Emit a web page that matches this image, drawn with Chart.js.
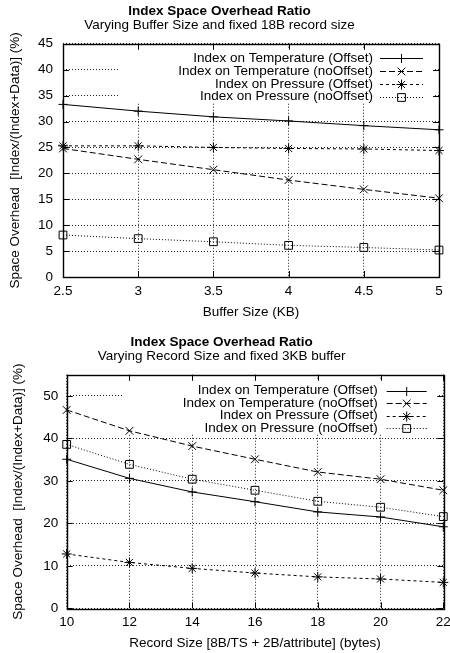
<!DOCTYPE html>
<html>
<head>
<meta charset="utf-8">
<script src="https://cdn.jsdelivr.net/npm/chart.js@4"></script>
<style>
  body { margin: 0; background: #fff; }
  .box { position: absolute; left: 0; }
</style>
</head>
<body>
<div class="box" style="top:0"><canvas id="bufferChart" width="450" height="320"></canvas></div>
<div class="box" style="top:331px"><canvas id="recordChart" width="450" height="322"></canvas></div>
<script>
// dati
const seriesLabels = [
  'Index on Temperature (Offset)',
  'Index on Temperature (noOffset)',
  'Index on Pressure (Offset)',
  'Index on Pressure (noOffset)'
];

// grafico 1: buffer variabile
const bufferSizes = [2.5, 3, 3.5, 4, 4.5, 5];
const bufTempOffset = [33.3, 32.0, 30.9, 30.1, 29.2, 28.4];
const bufTempNoOffset = [24.8, 22.7, 20.7, 18.7, 16.9, 15.2];
const bufPresOffset = [25.3, 25.3, 25.0, 24.8, 24.7, 24.4];
const bufPresNoOffset = [8.1, 7.4, 6.8, 6.1, 5.7, 5.2];

// grafico 2: record variabile
const recordSizes = [10, 12, 14, 16, 18, 20, 22];
const recTempOffset = [35.1, 30.6, 27.4, 25.1, 22.7, 21.5, 19.2];
const recTempNoOffset = [46.7, 41.8, 38.2, 35.1, 32.1, 30.4, 27.8];
const recPresOffset = [12.8, 10.8, 9.4, 8.3, 7.4, 6.9, 6.1];
const recPresNoOffset = [38.6, 33.9, 30.4, 27.8, 25.2, 23.8, 21.6];

const FONT = "'Liberation Sans', Arial, Helvetica, sans-serif";
const lineStyles = [
  { dash: [], point: 'cross', radius: 4.5 },
  { dash: [6, 3], point: 'crossRot', radius: 5.5 },
  { dash: [3, 3], point: 'star', radius: 5 },
  { dash: [1, 2], point: 'rect', radius: 5.5 }
];

// cornice, tacche interne e legenda in stile gnuplot
const gnuplotFrame = {
  id: 'gnuplotFrame',
  beforeDatasetsDraw(chart, args, opts) {
    const { ctx, chartArea: a } = chart;
    ctx.save();
    ctx.fillStyle = '#fff';
    ctx.fillRect(opts.boxLeft, a.top + 4, a.right - 6 - opts.boxLeft, opts.boxBottom - a.top - 4);
    ctx.restore();
  },
  afterDatasetsDraw(chart, args, opts) {
    const { ctx, chartArea: a, scales } = chart;
    ctx.save();
    ctx.strokeStyle = '#000';
    ctx.lineWidth = 1;
    ctx.setLineDash([]);
    ctx.beginPath();
    scales.x.ticks.forEach(t => {
      const px = Math.round(scales.x.getPixelForValue(t.value)) + 0.5;
      ctx.moveTo(px, a.bottom); ctx.lineTo(px, a.bottom - 6);
      ctx.moveTo(px, a.top); ctx.lineTo(px, a.top + 6);
    });
    scales.y.ticks.forEach(t => {
      const py = Math.round(scales.y.getPixelForValue(t.value)) + 0.5;
      ctx.moveTo(a.left, py); ctx.lineTo(a.left + 6, py);
      ctx.moveTo(a.right, py); ctx.lineTo(a.right - 6, py);
    });
    ctx.stroke();
    ctx.lineWidth = 1.4;
    ctx.strokeRect(Math.round(a.left) + 0.5, Math.round(a.top) + 0.5,
      Math.round(a.right - a.left), Math.round(a.bottom - a.top));

    // legenda
    ctx.font = '13.5px ' + FONT;
    ctx.fillStyle = '#000';
    ctx.textAlign = 'right';
    ctx.textBaseline = 'middle';
    chart.data.datasets.forEach((ds, i) => {
      const y = opts.rowTop + i * opts.rowGap;
      ctx.fillText(ds.label, opts.textRight, y);
      ctx.lineWidth = 1;
      ctx.setLineDash(ds.borderDash || []);
      ctx.beginPath();
      ctx.moveTo(opts.lineStart, Math.round(y) + 0.5);
      ctx.lineTo(opts.lineEnd, Math.round(y) + 0.5);
      ctx.stroke();
      ctx.setLineDash([]);
      ctx.fillStyle = 'rgba(0,0,0,0)';
      Chart.helpers.drawPoint(ctx, {
        pointStyle: ds.pointStyle, radius: ds.pointRadius, rotation: 0, borderWidth: 1
      }, (opts.lineStart + opts.lineEnd) / 2, Math.round(y) + 0.5);
      ctx.fillStyle = '#000';
    });
    ctx.restore();
  }
};

function makeDatasets(xs, lists) {
  return lists.map((vals, i) => ({
    label: seriesLabels[i],
    data: xs.map((x, j) => ({ x: x, y: vals[j] })),
    borderColor: '#000',
    borderWidth: 1,
    borderDash: lineStyles[i].dash,
    pointStyle: lineStyles[i].point,
    pointRadius: lineStyles[i].radius,
    pointBorderColor: '#000',
    pointBackgroundColor: 'rgba(0,0,0,0)',
    pointBorderWidth: 1,
    tension: 0,
    clip: false
  }));
}

function makeChart(id, cfg) {
  const tickFont = { family: FONT, size: 13.5 };
  return new Chart(document.getElementById(id), {
    type: 'line',
    data: { datasets: makeDatasets(cfg.xs, cfg.series) },
    options: {
      responsive: false,
      animation: false,
      layout: { padding: { left: 0, right: cfg.right, top: 0, bottom: 0 } },
      plugins: {
        legend: { display: false },
        tooltip: { enabled: false },
        title: {
          display: true, text: 'Index Space Overhead Ratio', color: '#000',
          font: { family: FONT, size: 13.5, weight: 'bold', lineHeight: 1 },
          padding: { top: 5, bottom: 0 }
        },
        subtitle: {
          display: true, text: cfg.subtitle, color: '#000',
          font: { family: FONT, size: 13.5, lineHeight: 1 },
          padding: { top: 0, bottom: 11.75 }
        },
        gnuplotFrame: cfg.legend
      },
      scales: {
        x: {
          type: 'linear', min: cfg.xMin, max: cfg.xMax,
          afterFit: s => { s.height = cfg.xHeight; s.paddingLeft = 0; s.paddingRight = 0; },
          ticks: {
            stepSize: cfg.xStep, color: '#000', font: tickFont, padding: 6, maxRotation: 0,
            includeBounds: false, callback: v => String(v)
          },
          grid: { color: '#222', drawTicks: false, lineWidth: 1 },
          border: { display: false, dash: [1, 2] },
          title: { display: true, text: cfg.xTitle, color: '#000', font: tickFont, padding: { top: 0, bottom: cfg.xTitlePad } }
        },
        y: {
          type: 'linear', min: 0, max: cfg.yMax,
          afterFit: s => { s.width = cfg.left; s.paddingTop = 0; s.paddingBottom = 0; },
          ticks: { stepSize: cfg.yStep, color: '#000', font: tickFont, padding: cfg.yTickPad, includeBounds: false },
          grid: { color: '#222', drawTicks: false, lineWidth: 1 },
          border: { display: false, dash: [1, 2] },
          title: {
            display: true, text: 'Space Overhead  [Index/(Index+Data)] (%)', color: '#000',
            font: tickFont, padding: { top: cfg.yTitlePad, bottom: 0 }
          }
        }
      }
    },
    plugins: [gnuplotFrame]
  });
}

makeChart('bufferChart', {
  xs: bufferSizes,
  series: [bufTempOffset, bufTempNoOffset, bufPresOffset, bufPresNoOffset],
  subtitle: 'Varying Buffer Size and fixed 18B record size',
  xTitle: 'Buffer Size (KB)',
  xMin: 2.5, xMax: 5, xStep: 0.5,
  yMax: 45, yStep: 5,
  left: 63, right: 11, xHeight: 43,
  xTitlePad: 0, yTitlePad: 7, yTickPad: 10,
  legend: { boxLeft: 120, boxBottom: 103, rowTop: 58.3, rowGap: 12.75, textRight: 373, lineStart: 380, lineEnd: 423 }
});

makeChart('recordChart', {
  xs: recordSizes,
  series: [recTempOffset, recTempNoOffset, recPresOffset, recPresNoOffset],
  subtitle: 'Varying Record Size and fixed 3KB buffer',
  xTitle: 'Record Size [8B/TS + 2B/attribute] (bytes)',
  xMin: 10, xMax: 22, xStep: 2,
  yMax: 55, yStep: 10,
  left: 66.7, right: 6.7, xHeight: 44.7,
  xTitlePad: 2, yTitlePad: 10, yTickPad: 8.4,
  legend: { boxLeft: 123, boxBottom: 103, rowTop: 59.7, rowGap: 12.5, textRight: 377.7, lineStart: 386.7, lineEnd: 426.7 }
});
</script>
</body>
</html>
